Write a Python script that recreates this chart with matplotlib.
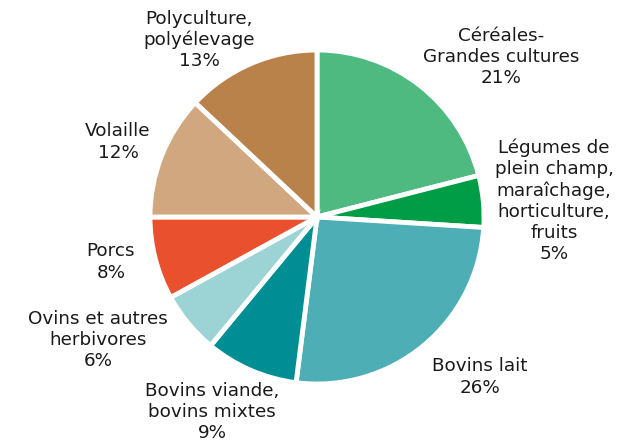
import matplotlib
matplotlib.use("Agg")
import matplotlib.pyplot as plt

labels = ["Céréales-\nGrandes cultures", "Légumes de\nplein champ,\nmaraîchage,\nhorticulture,\nfruits",
          "Bovins lait", "Bovins viande,\nbovins mixtes", "Ovins et autres\nherbivores",
          "Porcs", "Volaille", "Polyculture,\npolyélevage"]
values = [21, 5, 26, 9, 6, 8, 12, 13]
colors = ["#4fba7f", "#009c46", "#4daeb6", "#008e95", "#9cd3d5", "#e8502e", "#d0a77f", "#b8824a"]
# label anchor positions (pixels from top-left of figure)
label_pos = [(501, 57), (554, 201), (480, 377), (212, 412), (98, 340), (111, 262), (118, 142), (199, 40)]

W, H = 629, 445
fig = plt.figure(figsize=(W / 100, H / 100), dpi=100)
ax = fig.add_axes([0, 0, 1, 1])
ax.set_xlim(0, W)
ax.set_ylim(0, H)
ax.set_aspect("equal")
ax.axis("off")

ax.pie(values, colors=colors, startangle=90, counterclock=False,
       center=(317, H - 217), radius=167,
       wedgeprops=dict(edgecolor="white", linewidth=3.5))
ax.set_xlim(0, W)
ax.set_ylim(0, H)

for lab, v, (x, y) in zip(labels, values, label_pos):
    ax.text(x, H - y, f"{lab}\n{v}%", ha="center", va="center", fontsize=13.2,
            linespacing=1.22, color="#1a1a1a", family="DejaVu Sans")

fig.savefig("out.png", dpi=100)
